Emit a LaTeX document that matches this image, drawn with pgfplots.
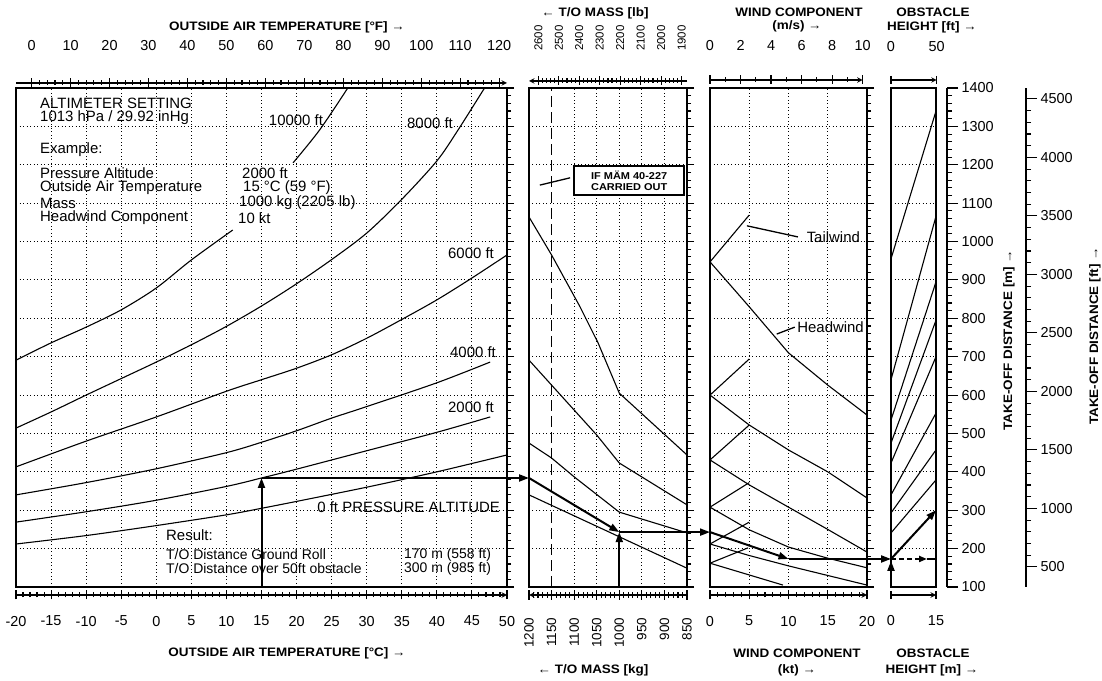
\documentclass[border=0pt]{standalone}
\usepackage{pgfplots}
\pgfplotsset{compat=1.18}
\usepackage{fontspec}
\setmainfont{Liberation Sans}
\newfontfamily\headfont[FakeStretch=1.1]{Liberation Sans}
\usetikzlibrary{arrows.meta}

\newcommand{\ticksize}{\fontsize{14.5}{15}\selectfont}
\newcommand{\txt}{\fontsize{15}{15}\selectfont}
\newcommand{\head}{\headfont\bfseries\fontsize{12.3}{13}\selectfont}

\pgfplotsset{
  /pgf/number format/assume math mode=true,
  /pgf/number format/1000 sep={},
  panel/.style={
    scale only axis, anchor=south west, height=499bp,
    ymin=100, ymax=1400, clip=false,
    axis line style={line width=2bp},
    grid=major,
    major grid style={black, line width=0.9bp, dash pattern=on 0.9bp off 2.6bp},
    ytick={100,200,...,1400}, minor y tick num=4, ytick pos=right,
    tick align=outside, major tick length=7bp, minor tick length=4bp,
    tick style={black, line width=1.1bp},
    xtick style={draw=none},
    xticklabel={\mbox{}}, yticklabel={\mbox{}},
  },
  curve/.style={black, line width=1.1bp, no markers},
  hscale/.style={
    scale only axis, anchor=south west, height=1bp, ymin=0, ymax=1,
    axis y line=none, axis line style={line width=1.4bp,-},
    tick align=outside, tick style={black, line width=1.1bp},
    major tick length=9bp, minor tick length=5bp,
    ticklabel style={font=\ticksize},
  },
  vscale/.style={
    scale only axis, anchor=south east, width=1bp, xmin=0, xmax=1,
    height=499bp, axis x line=none, axis y line=right,
    axis line style={line width=1.6bp,-},
    tick align=outside, tick style={black, line width=1.1bp},
    major tick length=11bp, minor tick length=5bp,
    ticklabel style={font=\ticksize},
  },
}
\tikzset{
  ex/.style={black, line width=2bp},
  exarr/.style={ex, -{Triangle[length=10bp,width=7bp]}},
}

\begin{document}
\begin{tikzpicture}
\path[use as bounding box] (0bp,0bp) rectangle (1102bp,681bp);

% ---------------- panel 1: outside air temperature ----------------
\begin{axis}[panel, at={(16bp,94bp)}, width=491bp,
  xmin=-20, xmax=50, xtick={-15,-10,...,45}]
% 0 ft
\addplot[curve, smooth] coordinates {(-20,212) (-10,234) (0,260) (10,288) (15,305) (20,323) (30,360) (40,400) (50,444)};
% 2000 ft
\addplot[curve, smooth] coordinates {(-20,269) (-10,296) (0,326) (10,362) (15,384) (20,407) (30,455) (40,503) (47.6,543)};
% 4000 ft
\addplot[curve, smooth] coordinates {(-20,340) (-10,372) (0,408) (10,450) (15,477) (20,507) (25,540) (30,570) (40,632) (47.6,686)};
% 6000 ft
\addplot[curve, smooth] coordinates {(-20,413) (-10,480) (0,543) (10,610) (15,640) (20,670) (25,705) (30,748) (35,797) (40,848) (45,905) (50,965)};
% 8000 ft
\addplot[curve, smooth] coordinates {(-20,514) (-15,556) (-10,600) (-5,643) (0,686) (5,731) (10,779) (15,832) (20,890) (25,953) (30,1022) (35,1110) (40,1210) (43,1290) (46.8,1400)};
% 10000 ft (interrupted by the example text)
\addplot[curve, smooth] coordinates {(-20,691) (-15,736) (-10,777) (-5,822) (0,879) (5,952) (10.9,1030)};
\addplot[curve, smooth] coordinates {(19.5,1205) (23.3,1291) (27.3,1400)};
% example path
\draw[exarr] (axis cs:15,100) -- (axis cs:15,384);
\draw[ex] (axis cs:15,384) -- (axis cs:50,384);
\end{axis}

% ---------------- panel 2: take-off mass ----------------
\begin{axis}[panel, at={(529bp,94bp)}, width=158bp,
  xmin=850, xmax=1200, x dir=reverse, xtick={900,950,...,1100}]
\addplot[curve] coordinates {(1200,1064) (1150,965) (1087,830) (1047,736) (1000,605) (850,444)};
\addplot[curve] coordinates {(1200,691) (1150,626) (1050,496) (1000,423) (850,314)};
\addplot[curve] coordinates {(1200,475) (1150,436) (1100,387) (1000,295) (850,241)};
\addplot[curve] coordinates {(1200,340) (850,149)};
\addplot[black, line width=1.8bp, dash pattern=on 11bp off 5bp] coordinates {(1150,100) (1150,1400)};
\node[draw, line width=1.6bp, fill=white, minimum width=110bp, minimum height=29bp,
      inner sep=1bp, align=center, font=\headfont\bfseries\fontsize{10}{11}\selectfont]
      at (axis cs:978,1159) {IF MÄM 40-227\\CARRIED OUT};
\draw[line width=1.3bp] (axis cs:1176,1147) -- (axis cs:1109,1166);
% example path
\draw[exarr] (axis cs:1248.7,384) -- (axis cs:1200,384);
\draw[exarr] (axis cs:1200,384) -- (axis cs:1000,243);
\draw[exarr] (axis cs:1000,100) -- (axis cs:1000,243);
\draw[ex] (axis cs:1000,243) -- (axis cs:850,243);
\end{axis}

% ---------------- panel 3: wind component ----------------
\begin{axis}[panel, at={(710bp,94bp)}, width=157bp,
  xmin=0, xmax=20, xtick={5,10,15}]
% headwind
\addplot[curve] coordinates {(0,947) (5,830) (10,710) (15,626) (20,548)};
\addplot[curve] coordinates {(0,600) (5,522) (10,457) (15,400) (20,332)};
\addplot[curve] coordinates {(0,431) (5,366) (10,308) (15,250) (20,191)};
\addplot[curve] coordinates {(0,308) (5,249) (10,204) (15,175) (20,150)};
\addplot[curve] coordinates {(0,212) (5,182) (10,155) (15,130) (20,105)};
\addplot[curve] coordinates {(0,162) (9.3,105)};
% tailwind
\addplot[curve] coordinates {(0,947) (5,1069)};
\addplot[curve] coordinates {(0,600) (5,694)};
\addplot[curve] coordinates {(0,431) (5,522)};
\addplot[curve] coordinates {(0,308) (5,372)};
\addplot[curve] coordinates {(0,212) (5,269)};
\addplot[curve] coordinates {(0,162) (4.85,202)};
\draw[line width=1.3bp] (axis cs:4.7,1041) -- (axis cs:11.2,1012);
\node[anchor=west, inner sep=0pt, font=\txt] at (axis cs:12.3,1012) {Tailwind};
\draw[line width=1.3bp] (axis cs:8.5,759) -- (axis cs:10.8,777);
\node[anchor=west, inner sep=0pt, font=\txt] at (axis cs:11.1,777) {Headwind};
% example path
\draw[exarr] (axis cs:-2.93,243) -- (axis cs:0,243);
\draw[exarr] (axis cs:0,243) -- (axis cs:10,173);
\draw[ex] (axis cs:10,173) -- (axis cs:20,173);
\end{axis}

% ---------------- panel 4: obstacle height ----------------
\begin{axis}[panel, at={(891bp,94bp)}, width=45bp,
  xmin=0, xmax=15, xtick=\empty, ytick style={draw=none}, minor y tick num=0]
\addplot[curve] coordinates {(0,955) (15,1340)};
\addplot[curve] coordinates {(0,640) (15,1066)};
\addplot[curve] coordinates {(0,535) (15,895)};
\addplot[curve] coordinates {(0,475) (15,795)};
\addplot[curve] coordinates {(0,423) (15,700)};
\addplot[curve] coordinates {(0,340) (15,553)};
\addplot[curve] coordinates {(0,293) (15,457)};
\addplot[curve] coordinates {(0,241) (15,379)};
% example path
\draw[exarr] (axis cs:-8,173) -- (axis cs:0,173);
\draw[exarr] (axis cs:0,173) -- (axis cs:15,300);
\draw[ex, dash pattern=on 5bp off 3bp, -{Triangle[length=8bp,width=6bp]}] (axis cs:0,173) -- (axis cs:12,173);
\draw[ex] (axis cs:12,173) -- (axis cs:15,173);
\draw[exarr] (axis cs:0,100) -- (axis cs:0,168);
\end{axis}

% ---------------- scales ----------------
\begin{axis}[hscale, at={(16bp,86bp)}, width=491bp, xmin=-20, xmax=50,
  axis x line=bottom, xtick={-20,-15,...,50},
  xticklabels={-20,-15,-10,-5,0,5,10,15,20,25,30,35,40,45,50},
  minor x tick num=4, xticklabel style={yshift=-13bp}]
\end{axis}
\begin{axis}[hscale, at={(16bp,597bp)}, width=491bp, xmin=-4, xmax=122,
  axis x line=top, xtick={0,10,...,120}, minor x tick num=4,
  xticklabel style={yshift=24bp}]
\end{axis}
\begin{axis}[hscale, at={(529bp,599bp)}, width=158bp, xmin=1873.93, xmax=2645.55,
  x dir=reverse, axis x line=top, xtick={1900,2000,...,2600}, minor x tick num=4,
  xticklabel style={rotate=90, anchor=west, xshift=22bp, font=\fontsize{11.5}{12}\selectfont}]
\end{axis}
\begin{axis}[hscale, at={(529bp,86bp)}, width=158bp, xmin=850, xmax=1200,
  x dir=reverse, axis x line=bottom, xtick={850,900,...,1200}, minor x tick num=4,
  xticklabel style={rotate=90, anchor=east, xshift=-15bp, font=\fontsize{13.5}{14}\selectfont}]
\end{axis}
\begin{axis}[hscale, at={(710bp,600bp)}, width=152.6bp, xmin=0, xmax=10,
  axis x line=top, xtick={0,2,...,10}, minor x tick num=1,
  xticklabel style={yshift=21bp}]
\end{axis}
\begin{axis}[hscale, at={(710bp,86bp)}, width=157bp, xmin=0, xmax=20,
  axis x line=bottom, xtick={0,5,...,20}, minor x tick num=4,
  xticklabel style={yshift=-13bp}]
\end{axis}
\begin{axis}[hscale, at={(891bp,600bp)}, width=45.7bp, xmin=0, xmax=50,
  axis x line=top, xtick={0,50}, tick align=center, major tick length=8bp,
  xticklabel style={yshift=21bp}]
\end{axis}
\begin{axis}[hscale, at={(891bp,86bp)}, width=45bp, xmin=0, xmax=15,
  axis x line=bottom, xtick={0,15}, tick align=center, major tick length=8bp,
  xticklabel style={yshift=-13bp}]
\end{axis}
\begin{axis}[vscale, at={(947bp,94bp)}, ymin=100, ymax=1400,
  ytick={100,200,...,1400}, minor y tick num=4]
\end{axis}
\begin{axis}[vscale, at={(1026bp,94bp)}, ymin=328.084, ymax=4593.18,
  ytick={500,1000,...,4500}, minor y tick num=4]
\end{axis}

% ---------------- titles ----------------
\node[font=\head] at (287bp,654bp) {OUTSIDE AIR TEMPERATURE [°F] →};
\node[font=\head] at (287bp,28bp) {OUTSIDE AIR TEMPERATURE [°C] →};
\node[font=\head] at (595bp,668bp) {← T/O MASS [lb]};
\node[font=\head] at (593bp,11bp) {← T/O MASS [kg]};
\node[font=\head] at (799bp,669bp) {WIND COMPONENT};
\node[font=\head] at (797bp,655bp) {(m/s) →};
\node[font=\head] at (797bp,28bp) {WIND COMPONENT};
\node[font=\head] at (797bp,11bp) {(kt) →};
\node[font=\head] at (933bp,669bp) {OBSTACLE};
\node[font=\head] at (932bp,654bp) {HEIGHT [ft] →};
\node[font=\head] at (933bp,28bp) {OBSTACLE};
\node[font=\head] at (932bp,11bp) {HEIGHT [m] →};
\node[font=\head, rotate=90] at (1009bp,341bp) {TAKE-OFF DISTANCE [m] →};
\node[font=\head, rotate=90] at (1095bp,345bp) {TAKE-OFF DISTANCE [ft] →};

% ---------------- example text ----------------
\begin{scope}[every node/.style={anchor=west, inner sep=0pt, font=\txt}]
\node at (40bp,578bp) {ALTIMETER SETTING};
\node at (40bp,563bp) {1013 hPa / 29.92 inHg};
\node at (40bp,531bp) {Example:};
\node at (40bp,508bp) {Pressure Altitude};
\node at (242bp,508bp) {2000 ft};
\node at (40bp,493bp) {Outside Air Temperature};
\node at (243bp,493bp) {15 °C (59 °F)};
\node at (40bp,478bp) {Mass};
\node at (239bp,478bp) {1000 kg (2205 lb)};
\node at (40bp,463bp) {Headwind Component};
\node at (238bp,463bp) {10 kt};
\node at (166bp,146bp) {Result:};
\end{scope}
\begin{scope}[every node/.style={anchor=west, inner sep=0pt, font=\fontsize{14}{14}\selectfont}]
\node at (166bp,126bp) {T/O Distance Ground Roll};
\node at (404bp,126bp) {170 m (558 ft)};
\node at (166bp,112bp) {T/O Distance over 50ft obstacle};
\node at (404bp,112bp) {300 m (985 ft)};
\end{scope}
\begin{scope}[every node/.style={inner sep=0pt, font=\txt}]
\node at (296bp,561bp) {10000 ft};
\node at (430bp,558bp) {8000 ft};
\node at (471bp,428bp) {6000 ft};
\node at (473bp,329bp) {4000 ft};
\node at (471bp,274bp) {2000 ft};
\node[anchor=east] at (500bp,174bp) {0 ft PRESSURE ALTITUDE};
\end{scope}
\end{tikzpicture}
\end{document}
